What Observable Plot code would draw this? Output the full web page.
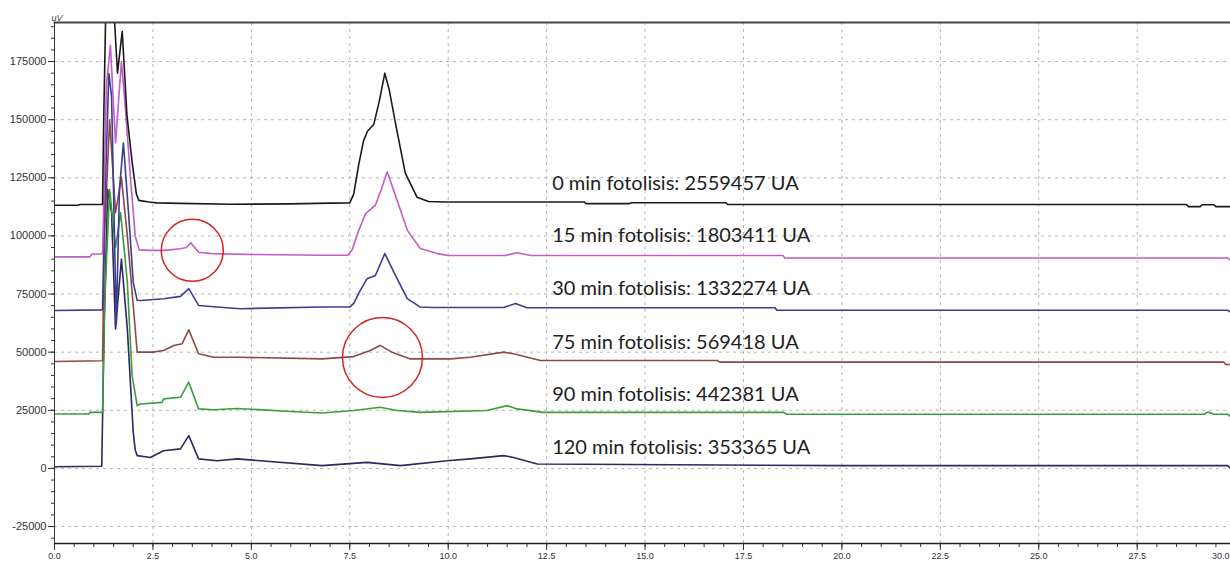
<!DOCTYPE html>
<html><head><meta charset="utf-8">
<script src="https://cdn.jsdelivr.net/npm/d3@7"></script>
<script src="https://cdn.jsdelivr.net/npm/@observablehq/plot@0.6"></script>
<style>body{margin:0;background:#fff} #chart svg{display:block}</style>
</head><body><div id="chart"></div>
<script>
// Series (chromatograms), retention time in minutes, signal in uV
const seriesNames = ["0 min", "15 min", "30 min", "75 min", "90 min", "120 min"];
const seriesColors = ["#1a1a1a", "#c25cc8", "#3c3c96", "#8c4a46", "#3c9c3c", "#2a2a5e"];
const labelTexts = [
  "0 min fotolisis: 2559457 UA",
  "15 min fotolisis: 1803411 UA",
  "30 min fotolisis: 1332274 UA",
  "75 min fotolisis: 569418 UA",
  "90 min fotolisis: 442381 UA",
  "120 min fotolisis: 353365 UA"
];
const labelTime = [12.64, 12.64, 12.64, 12.64, 12.64, 12.64];
const labelValue = [122600, 100300, 77300, 54300, 31900, 8800];

const t0 = [0,0.6,0.65,1.22,1.25,1.3,1.36,1.5,1.6,1.72,1.84,1.97,2.08,2.14,2.4,2.6,3.2,4.5,6.0,7.0,7.5,7.6,7.72,7.85,7.95,8.11,8.25,8.39,8.5,8.66,8.91,9.21,9.5,9.9,13.45,13.5,14.6,14.65,17.05,17.1,28.75,28.8,29.1,29.15,29.45,29.5,29.87];
const v0 = [113200,113200,113500,113500,150000,195000,200000,200000,170000,188000,152000,132000,118000,115300,114600,114200,114000,113600,113800,114100,114200,118000,130000,141000,145000,148000,158000,170000,163000,148500,127000,116600,114800,114600,114600,113900,113900,114300,114300,113500,113500,112600,112600,113400,113400,112600,112600];

const t1 = [0,0.9,0.95,1.22,1.26,1.32,1.42,1.55,1.7,1.8,1.93,2.05,2.15,2.4,2.8,3.2,3.35,3.46,3.66,4.0,5.0,6.8,7.45,7.56,7.72,7.9,8.15,8.3,8.45,8.7,8.96,9.29,9.72,10.0,11.45,11.75,12.1,18.5,18.55,29.8,29.87];
const v1 = [91000,91000,92200,92200,120000,165000,182000,140000,175000,155000,125000,100000,94000,93800,93800,94500,95000,97100,93000,92400,92000,91700,91700,94000,102000,109600,113200,120000,127600,115400,102500,94600,92400,91600,91600,92800,91600,91600,90500,90500,89500];

const t2 = [0,1.22,1.27,1.38,1.45,1.57,1.65,1.75,1.88,2.0,2.1,2.2,2.77,3.2,3.41,3.66,4.13,4.72,6.8,7.5,7.6,7.75,7.94,8.15,8.39,8.66,8.96,9.29,9.6,11.4,11.71,12.0,18.3,18.35,29.8,29.87];
const v2 = [67900,68200,110000,170000,160000,62000,120000,140000,110000,80000,72300,72200,73000,74000,77300,70100,69400,68700,69400,69400,71000,76000,81600,83000,92400,83000,73000,69400,69200,69200,70900,69100,69100,68000,68000,67200];

const t3 = [0,1.22,1.27,1.4,1.55,1.7,1.85,2.0,2.1,2.5,2.77,3.03,3.24,3.41,3.66,4.04,4.72,6.8,7.6,8.02,8.27,8.57,9.04,10.06,10.56,11.41,11.66,12.34,16.83,16.9,29.7,29.75,29.87];
const v3 = [46000,46300,100000,150000,110000,125000,100000,70000,50000,50000,50700,52900,53600,59600,49300,47800,47800,47100,48100,50700,52900,50000,47100,47100,47800,50000,49300,46400,46400,45700,45700,44700,44700];

const t4 = [0,0.87,0.9,1.22,1.27,1.4,1.55,1.68,1.85,1.97,2.1,2.18,2.73,2.77,3.2,3.41,3.66,4.04,4.64,6.0,6.8,7.6,8.27,8.7,9.29,10.98,11.5,11.75,12.4,18.52,18.6,29.2,29.3,29.45,29.8,29.87];
const v4 = [23400,23400,24100,24100,70000,120000,95000,110000,80000,40000,27000,27700,28400,29900,30600,37100,25600,25200,25800,24500,23800,24900,26300,24900,24100,24900,27000,25600,24100,24100,23300,23300,24300,23300,23300,22300];

const t5 = [0,1.2,1.26,1.35,1.45,1.55,1.7,1.85,2.0,2.05,2.1,2.43,2.77,3.2,3.41,3.66,4.13,4.64,6.8,7.94,8.79,9.97,10.56,11.41,11.66,12.26,20.0,29.8,29.87];
const v5 = [700,900,60000,120000,110000,60000,90000,60000,15500,8000,5500,4700,7600,8400,14100,4100,3300,4100,1200,2600,1200,3300,4100,5500,4700,1900,1200,1200,0];

// Annotation circles (centre positions in data units)
const circleTime = [3.5, 8.33];
const circleValue = [93800, 47700];

// Axis ticks
const xTicks = [0, 2.5, 5, 7.5, 10, 12.5, 15, 17.5, 20, 22.5, 25, 27.5];
const xLastTick = [30];
const yTicks = [-25000, 0, 25000, 50000, 75000, 100000, 125000, 150000, 175000];
const xMinor = d3.range(0, 29.9, 0.5);
const yMinor = d3.range(-30000, 190001, 5000);

const times = [t0, t1, t2, t3, t4, t5];
const values = [v0, v1, v2, v3, v4, v5];
const traces = times.map((ts, i) => ts.map((t, j) => ({t, v: values[i][j], s: seriesNames[i]})));
const labels = labelTexts.map((text, i) => ({text, t: labelTime[i], v: labelValue[i]}));
const circles = circleTime.map((t, i) => ({t, v: circleValue[i]}));

const drawOrder = [5, 4, 3, 2, 1, 0];
const fmtX = d3.format(".1f");

const plot = Plot.plot({
  width: 1230, height: 561,
  marginTop: 22, marginRight: 0, marginBottom: 18, marginLeft: 54,
  style: {background: "#fff", fontFamily: "Liberation Sans", color: "#333"},
  x: {domain: [0, 29.87]},
  y: {domain: [-32300, 191800]},
  marks: [
    Plot.gridY(yTicks, {stroke: "#b4b4b4", strokeOpacity: 1, strokeDasharray: "3,4"}),
    Plot.gridX(xTicks.filter(d => d > 0), {stroke: "#b4b4b4", strokeOpacity: 1, strokeDasharray: "3,4"}),
    Plot.axisY(yMinor, {tickSize: 3, tickFormat: () => "", label: null}),
    Plot.axisY(yTicks, {tickSize: 6, tickPadding: 2, fontSize: 11, tickFormat: d => String(d), label: null}),
    Plot.axisX(xMinor, {tickSize: 4, tickFormat: () => "", label: null}),
    Plot.axisX(xTicks, {tickSize: 7, tickPadding: 2, fontSize: 9, tickFormat: fmtX, label: null}),
    Plot.axisX(xLastTick, {tickSize: 0, tickPadding: 9, fontSize: 9, tickFormat: fmtX, textAnchor: "end", dx: -6, label: null}),
    ...drawOrder.map(i => Plot.line(traces[i], {x: "t", y: "v", stroke: seriesColors[i], strokeWidth: 1.6, clip: true})),
    Plot.text(labels, {x: "t", y: "v", text: "text", textAnchor: "start", fontSize: 20, fontFamily: "Lato", fill: "#1e1e1e"}),
    Plot.dot(circles.slice(0, 1), {x: "t", y: "v", r: 31, stroke: "#d42424", strokeWidth: 1.5, fill: "none"}),
    Plot.dot(circles.slice(1, 2), {x: "t", y: "v", r: 40, stroke: "#d42424", strokeWidth: 1.5, fill: "none"}),
    Plot.frame({anchor: "top", stroke: "#444", strokeWidth: 2}),
    Plot.frame({anchor: "left", stroke: "#333"}),
    Plot.frame({anchor: "bottom", stroke: "#222", strokeWidth: 1.3}),
    Plot.text(["uV"], {frameAnchor: "top-left", dx: -3, dy: -8, fontSize: 9, fontStyle: "italic", fill: "#444"})
  ]
});
document.getElementById("chart").appendChild(plot);
</script>
</body></html>
